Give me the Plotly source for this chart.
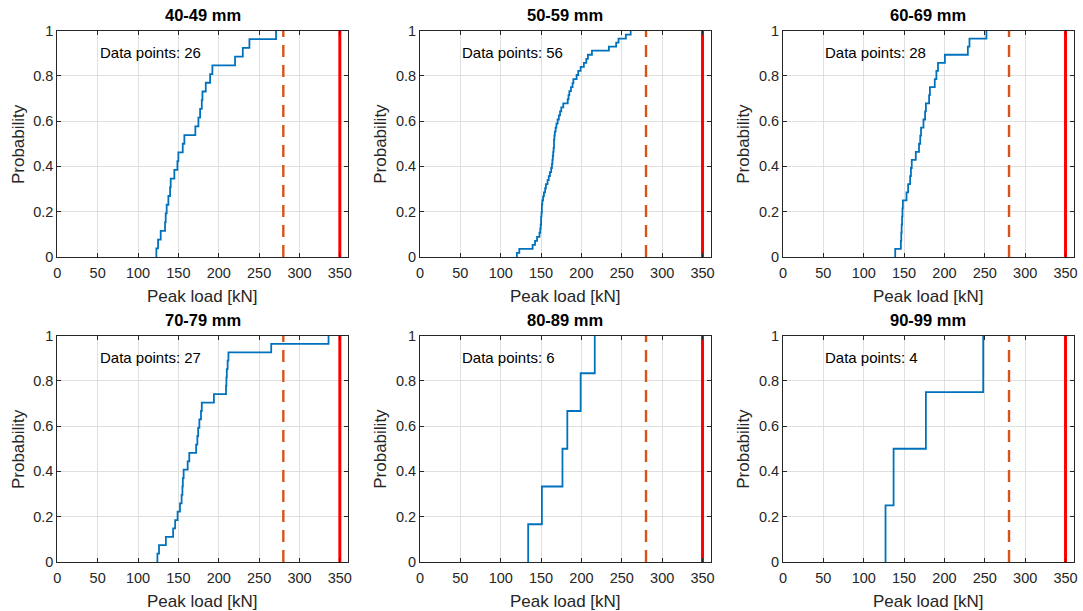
import numpy as np
import plotly.graph_objects as go

# ---------------- data ----------------
titles = ["40-49 mm", "50-59 mm", "60-69 mm", "70-79 mm", "80-89 mm", "90-99 mm"]

load_40_49 = [122.7, 124.8, 128.1, 133.5, 134.3, 135.5, 137.6, 139.7, 140.5, 145.0,
              148.8, 150.0, 155.4, 157.4, 171.0, 174.8, 176.9, 179.0, 179.8, 183.9,
              189.3, 192.1, 220.2, 229.8, 238.0, 271.0]

load_50_59 = [120.0, 123.0, 139.5, 142.5, 145.0, 148.0, 149.0, 149.5, 150.0, 150.0,
              150.5, 151.0, 151.0, 151.5, 152.5, 153.5, 155.0, 156.0, 158.0, 159.5,
              161.0, 162.5, 163.5, 164.0, 164.5, 165.0, 165.5, 166.0, 166.0, 166.5,
              167.0, 168.0, 169.0, 170.5, 172.0, 173.5, 175.0, 177.5, 183.0, 184.0,
              185.0, 187.0, 189.0, 190.0, 194.0, 196.0, 199.0, 203.0, 206.0, 208.0,
              213.0, 234.0, 243.0, 246.0, 255.0, 261.0]

load_60_69 = [139.0, 146.0, 146.5, 147.0, 147.5, 148.0, 148.5, 153.0, 155.0, 157.5,
              158.5, 159.5, 164.5, 168.5, 170.0, 171.0, 174.0, 176.0, 177.0, 181.0,
              182.0, 188.0, 190.0, 192.0, 200.5, 229.0, 231.0, 252.0]

load_70_79 = [124.0, 126.0, 134.5, 143.5, 146.0, 149.0, 152.0, 154.0, 155.0, 155.5,
              156.5, 161.5, 163.5, 172.0, 173.5, 174.5, 176.0, 178.0, 179.0, 194.0,
              209.0, 209.5, 210.0, 211.0, 212.0, 265.0, 336.0]

load_80_89 = [134.0, 151.0, 176.5, 182.5, 199.0, 216.5]

load_90_99 = [127.0, 137.0, 177.0, 248.0]

groups = [load_40_49, load_50_59, load_60_69, load_70_79, load_80_89, load_90_99]

design_load = 280   # dashed reference line
limit_load = 350    # solid reference line

x_ticks = [0, 50, 100, 150, 200, 250, 300, 350]
y_ticks = [0, 0.2, 0.4, 0.6, 0.8, 1]

# ---------------- styling / layout ----------------
W, H = 1083, 611
FONT = "Arial, 'Liberation Sans', Helvetica, sans-serif"
AX_COL = "#262626"
GRID_COL = "#dfdfdf"
BLUE = "#0072BD"
ORANGE = "#D95319"
RED = "#FF0000"

col_left = [57.3, 420.0, 783.0]
ax_w = 290.6
row_top = [30.5, 335.5]
ax_h = 226.5

fig = go.Figure()
annotations = []
layout_axes = {}

for i, (title, vals) in enumerate(zip(titles, groups)):
    r, c = divmod(i, 3)
    sfx = "" if i == 0 else str(i + 1)
    xa, ya = "x" + sfx, "y" + sfx

    v = np.sort(np.asarray(vals, dtype=float))
    n = len(v)
    xs = np.concatenate([[v[0]], v])
    ys = np.concatenate([[0.0], np.arange(1, n + 1) / n])

    fig.add_trace(go.Scatter(x=xs, y=ys, mode="lines",
                             line=dict(color=BLUE, width=1.8, shape="hv"),
                             xaxis=xa, yaxis=ya, showlegend=False, hoverinfo="skip"))
    fig.add_trace(go.Scatter(x=[design_load, design_load], y=[0, 1], mode="lines",
                             line=dict(color=ORANGE, width=2.4, dash="12px,8px"),
                             xaxis=xa, yaxis=ya, showlegend=False, hoverinfo="skip"))
    fig.add_trace(go.Scatter(x=[limit_load, limit_load], y=[0, 1], mode="lines",
                             line=dict(color=RED, width=3),
                             xaxis=xa, yaxis=ya, showlegend=False, hoverinfo="skip"))

    x0 = col_left[c]
    y0 = row_top[r]
    xdom = [x0 / W, (x0 + ax_w) / W]
    ydom = [1 - (y0 + ax_h) / H, 1 - y0 / H]

    common = dict(showgrid=True, gridcolor=GRID_COL, gridwidth=1,
                  showline=True, linecolor=AX_COL, linewidth=1, mirror="allticks",
                  ticks="inside", ticklen=4, tickcolor=AX_COL, tickwidth=1,
                  tickfont=dict(family=FONT, size=14.5, color=AX_COL),
                  zeroline=False, fixedrange=True, automargin=False)

    layout_axes["xaxis" + sfx] = dict(domain=xdom, range=[0, 360], tickvals=x_ticks,
                                      anchor=ya, ticklabelstandoff=3, **common)
    layout_axes["yaxis" + sfx] = dict(domain=ydom, range=[0, 1], tickvals=y_ticks,
                                      anchor=xa, **common)

    cx = (x0 + ax_w / 2) / W
    # title
    annotations.append(dict(text="<b>%s</b>" % title, x=cx, y=1 - (y0 - 15.5) / H,
                            xref="paper", yref="paper", xanchor="center", yanchor="middle",
                            showarrow=False, font=dict(family=FONT, size=16.5, color="#000")))
    # x label
    annotations.append(dict(text="Peak load [kN]", x=cx, y=1 - (y0 + ax_h + 39) / H,
                            xref="paper", yref="paper", xanchor="center", yanchor="middle",
                            showarrow=False, font=dict(family=FONT, size=17, color=AX_COL)))
    # y label
    annotations.append(dict(text="Probability", x=(x0 - 39) / W, y=1 - (y0 + ax_h / 2) / H,
                            xref="paper", yref="paper", xanchor="center", yanchor="middle",
                            textangle=-90, showarrow=False,
                            font=dict(family=FONT, size=17, color=AX_COL)))
    # data points text
    annotations.append(dict(text="Data points: %d" % n, x=50, y=0.905, xref=xa, yref=ya,
                            xanchor="left", yanchor="middle", showarrow=False,
                            font=dict(family=FONT, size=15, color="#000")))

fig.update_layout(template="none", width=W, height=H, autosize=False,
                  margin=dict(l=0, r=0, t=0, b=0, pad=0),
                  paper_bgcolor="white", plot_bgcolor="white",
                  font=dict(family=FONT), annotations=annotations,
                  showlegend=False, **layout_axes)

fig.write_html("out.html", config={"displayModeBar": False})
